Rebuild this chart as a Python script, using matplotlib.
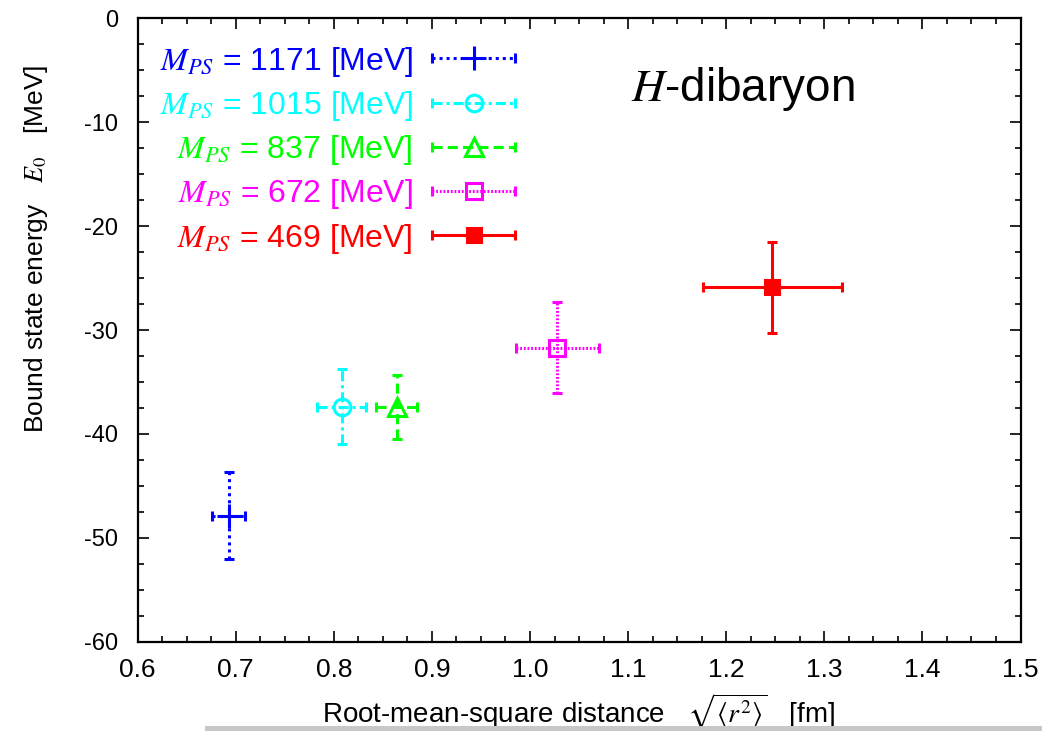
#!/usr/bin/env python3
"""H-dibaryon bound state energy vs. root-mean-square distance for several pion masses."""

import matplotlib
matplotlib.use("Agg")
import matplotlib.pyplot as plt
from matplotlib.lines import Line2D
from matplotlib.legend_handler import HandlerLine2D, HandlerTuple
from matplotlib.patches import Rectangle
from matplotlib.ticker import MultipleLocator

# ---------------------------------------------------------------------------
# Data
# ---------------------------------------------------------------------------

masses = [1171, 1015, 837, 672, 469]            # M_PS [MeV]
rms_r = [0.693, 0.808, 0.864, 1.028, 1.247]     # sqrt(<r^2>) [fm]
rms_err = [0.017, 0.025, 0.021, 0.042, 0.071]
energy = [-47.9, -37.4, -37.4, -31.7, -25.9]    # E_0 [MeV]
energy_err = [4.2, 3.6, 3.1, 4.4, 4.4]

colors = ["#0000ff", "#00ffff", "#00ff00", "#ff00ff", "#ff0000"]
markers = ["+", "o", "^", "s", "s"]
marker_sizes = [17, 12, 13, 12, 10]
marker_fill = ["full", "none", "none", "none", "full"]
line_styles = [
    (0, (1.0, 1.3)),
    (0, (3.3, 1.3, 1.0, 1.3)),
    (0, (3.3, 1.7)),
    (0, (0.6, 0.6)),
    "-",
]

plt.rcParams["font.family"] = ["Liberation Sans", "DejaVu Sans"]
plt.rcParams["mathtext.fontset"] = "stix"
plt.rcParams["axes.unicode_minus"] = False

LW = 2.2

# ---------------------------------------------------------------------------
# Plotting
# ---------------------------------------------------------------------------

fig = plt.figure(figsize=(10.42, 7.31), dpi=100)
ax = fig.add_axes([0.132, 0.1224, 0.8474, 0.8523])

handles = []
handler_map = {}
labels = []
for i in range(len(masses)):
    fill = marker_fill[i]
    cont = ax.errorbar(
        rms_r[i], energy[i], xerr=rms_err[i], yerr=energy_err[i],
        fmt=markers[i], color=colors[i], markersize=marker_sizes[i],
        markeredgewidth=LW, fillstyle=fill, elinewidth=LW,
        capsize=3.6, capthick=LW, zorder=3,
    )
    for bar in cont.lines[2]:
        bar.set_linestyle(line_styles[i])

    # legend proxy: styled line with marker in the middle, caps at both ends
    main = Line2D([], [], color=colors[i], linestyle=line_styles[i], linewidth=LW,
                  marker=markers[i], markersize=marker_sizes[i],
                  markeredgewidth=LW, fillstyle=fill)
    caps = Line2D([], [], color=colors[i], linestyle="none", marker="|",
                  markersize=7, markeredgewidth=LW)
    handler_map[caps] = HandlerLine2D(numpoints=2, marker_pad=0)
    handler_map[main] = HandlerLine2D(numpoints=1)
    handles.append((main, caps))
    labels.append(rf"$M_{{PS}}$ = {masses[i]} [MeV]")

handler_map[tuple] = HandlerTuple(ndivide=1, pad=0)
leg = ax.legend(
    handles, labels, handler_map=handler_map,
    loc="upper left", bbox_to_anchor=(0.025, 0.958),
    fontsize=23, markerfirst=False, frameon=False,
    handlelength=2.6, handletextpad=0.6, labelspacing=0.32,
    borderpad=0.0, borderaxespad=0.0,
)
for txt, c in zip(leg.get_texts(), colors):
    txt.set_color(c)

ax.text(0.685, 0.867, r"$H$-dibaryon", transform=ax.transAxes,
        ha="center", va="baseline", fontsize=33)

ax.set_xlim(0.6, 1.5)
ax.set_ylim(-60, 0)
ax.xaxis.set_major_locator(MultipleLocator(0.1))
ax.xaxis.set_minor_locator(MultipleLocator(0.025))
ax.yaxis.set_major_locator(MultipleLocator(10))
ax.yaxis.set_minor_locator(MultipleLocator(2.5))
ax.xaxis.set_major_formatter(lambda v, pos: f"{v:.1f}")
ax.tick_params(which="both", direction="in", top=True, right=True, width=1.2)
ax.tick_params(which="major", length=8)
ax.tick_params(which="minor", length=4.5)
ax.tick_params(axis="y", labelsize=17, pad=14)
ax.tick_params(axis="x", labelsize=19, pad=12)
for spine in ax.spines.values():
    spine.set_linewidth(1.6)

ax.set_xlabel(r"Root-mean-square distance   $\sqrt{\langle r^2\rangle}$   [fm]",
              fontsize=20, labelpad=7)
ax.set_ylabel(r"Bound state energy   $E_0$   [MeV]", fontsize=19)
ax.yaxis.set_label_coords(-0.099, 0.63)

fig.add_artist(Rectangle((205 / 1042, 0), 1 - 205 / 1042, 5 / 731,
                         transform=fig.transFigure, color="#c8c8c8", lw=0))

fig.savefig("out.png", dpi=100)
